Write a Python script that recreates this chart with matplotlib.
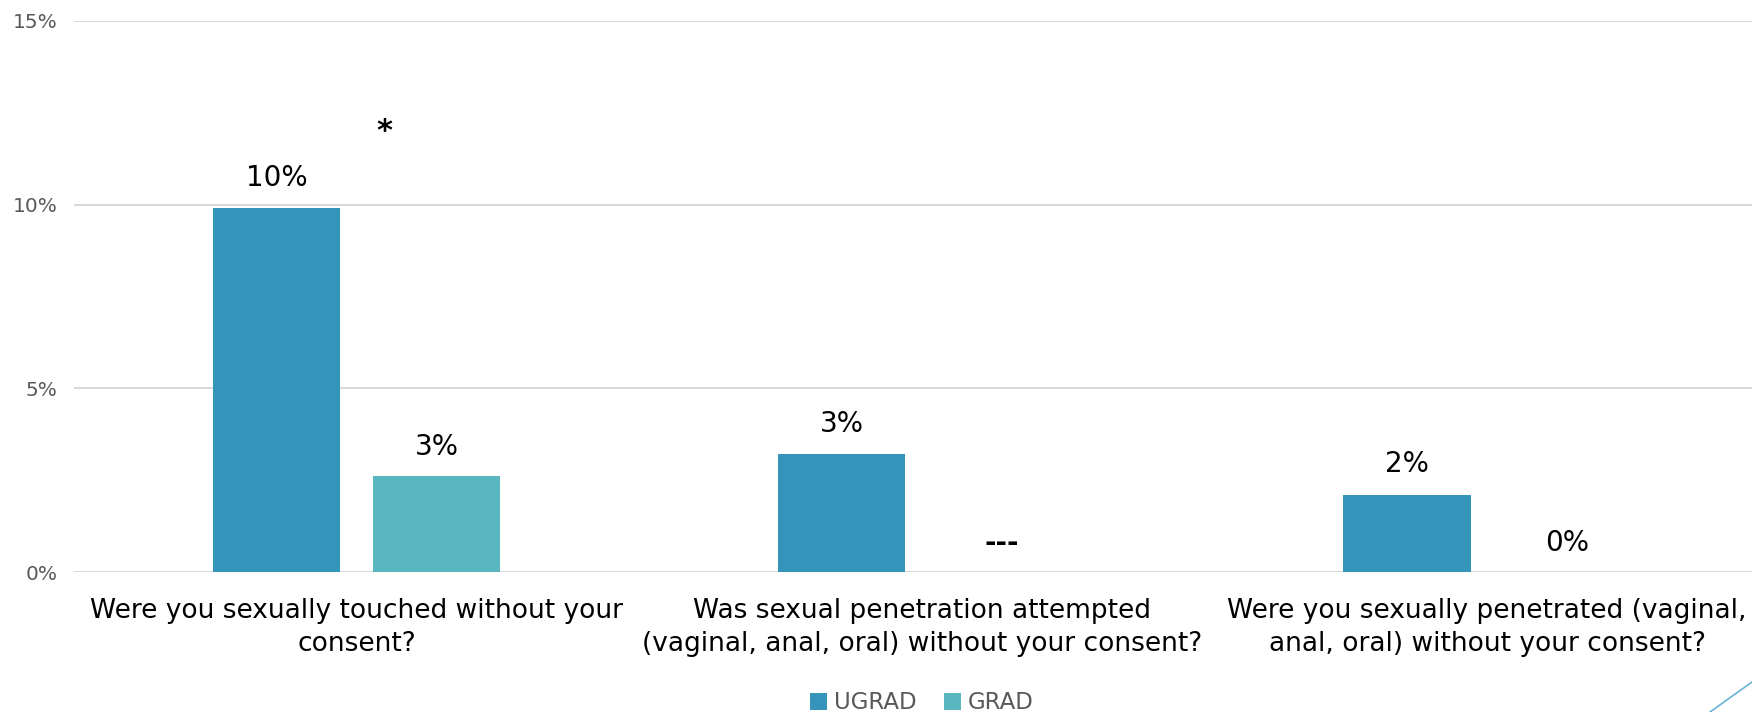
import matplotlib.pyplot as plt
import numpy as np
from matplotlib.lines import Line2D

plt.rcParams['font.family'] = ['Liberation Sans Narrow', 'DejaVu Sans Condensed', 'DejaVu Sans']

categories = ['Were you sexually touched without your\nconsent?',
              'Was sexual penetration attempted\n(vaginal, anal, oral) without your consent?',
              'Were you sexually penetrated (vaginal,\nanal, oral) without your consent?']
ugrad = [9.9, 3.2, 2.1]
grad = [2.6, 0.0, 0.0]
ugrad_labels = ['10%', '3%', '2%']
grad_labels = ['3%', '---', '0%']
yticks = [0, 5, 10, 15]

fig = plt.figure(figsize=(17.52, 7.12), dpi=100)
ax = fig.add_axes([0.0422, 0.1966, 0.968, 0.774])

x = np.arange(len(categories))
w = 0.225
off = 0.142
b1 = ax.bar(x - off, ugrad, w, color='#3594BA', label='UGRAD', zorder=3)
b2 = ax.bar(x + off, grad, w, color='#5AB7C0', label='GRAD', zorder=3)

for rect, lab in zip(b1, ugrad_labels):
    ax.annotate(lab, (rect.get_x() + rect.get_width() / 2, rect.get_height()),
                xytext=(0, 12), textcoords='offset points', ha='center', va='bottom',
                fontsize=20)
for rect, lab in zip(b2, grad_labels):
    ax.annotate(lab, (rect.get_x() + rect.get_width() / 2, rect.get_height()),
                xytext=(0, 11), textcoords='offset points', ha='center', va='bottom',
                fontsize=20, fontweight='bold' if lab == '---' else 'normal')

# significance marker
ax.text(0.05, 12.0, '*', ha='center', va='center', fontsize=22, fontweight='bold')

ax.set_xlim(-0.5, 2.5)
ax.set_ylim(0, 15)
ax.set_yticks(yticks)
ax.set_yticklabels([f'{t}%' for t in yticks], color='#595959', fontsize=14.5)
ax.set_xticks(x)
ax.set_xticklabels(categories, fontsize=19, linespacing=1.35)
ax.tick_params(axis='both', length=0)
ax.tick_params(axis='x', pad=19)
ax.tick_params(axis='y', pad=12)
ax.grid(axis='y', color='#D9D9D9', linewidth=1.5, zorder=0)
for s in ax.spines.values():
    s.set_visible(False)

leg = ax.legend(loc='lower center', bbox_to_anchor=(0.5, -0.283), ncol=2, frameon=False,
                fontsize=16.5, handlelength=0.75, handleheight=0.75, handletextpad=0.3,
                columnspacing=1.2, borderpad=0.1)
for t in leg.get_texts():
    t.set_color('#595959')

# decorative corner line
fig.add_artist(Line2D([1710 / 1752, 1.0], [0.0, 30 / 712], color='#6BB3D6', linewidth=1.2,
                      transform=fig.transFigure))

fig.savefig('out.png', dpi=100)
